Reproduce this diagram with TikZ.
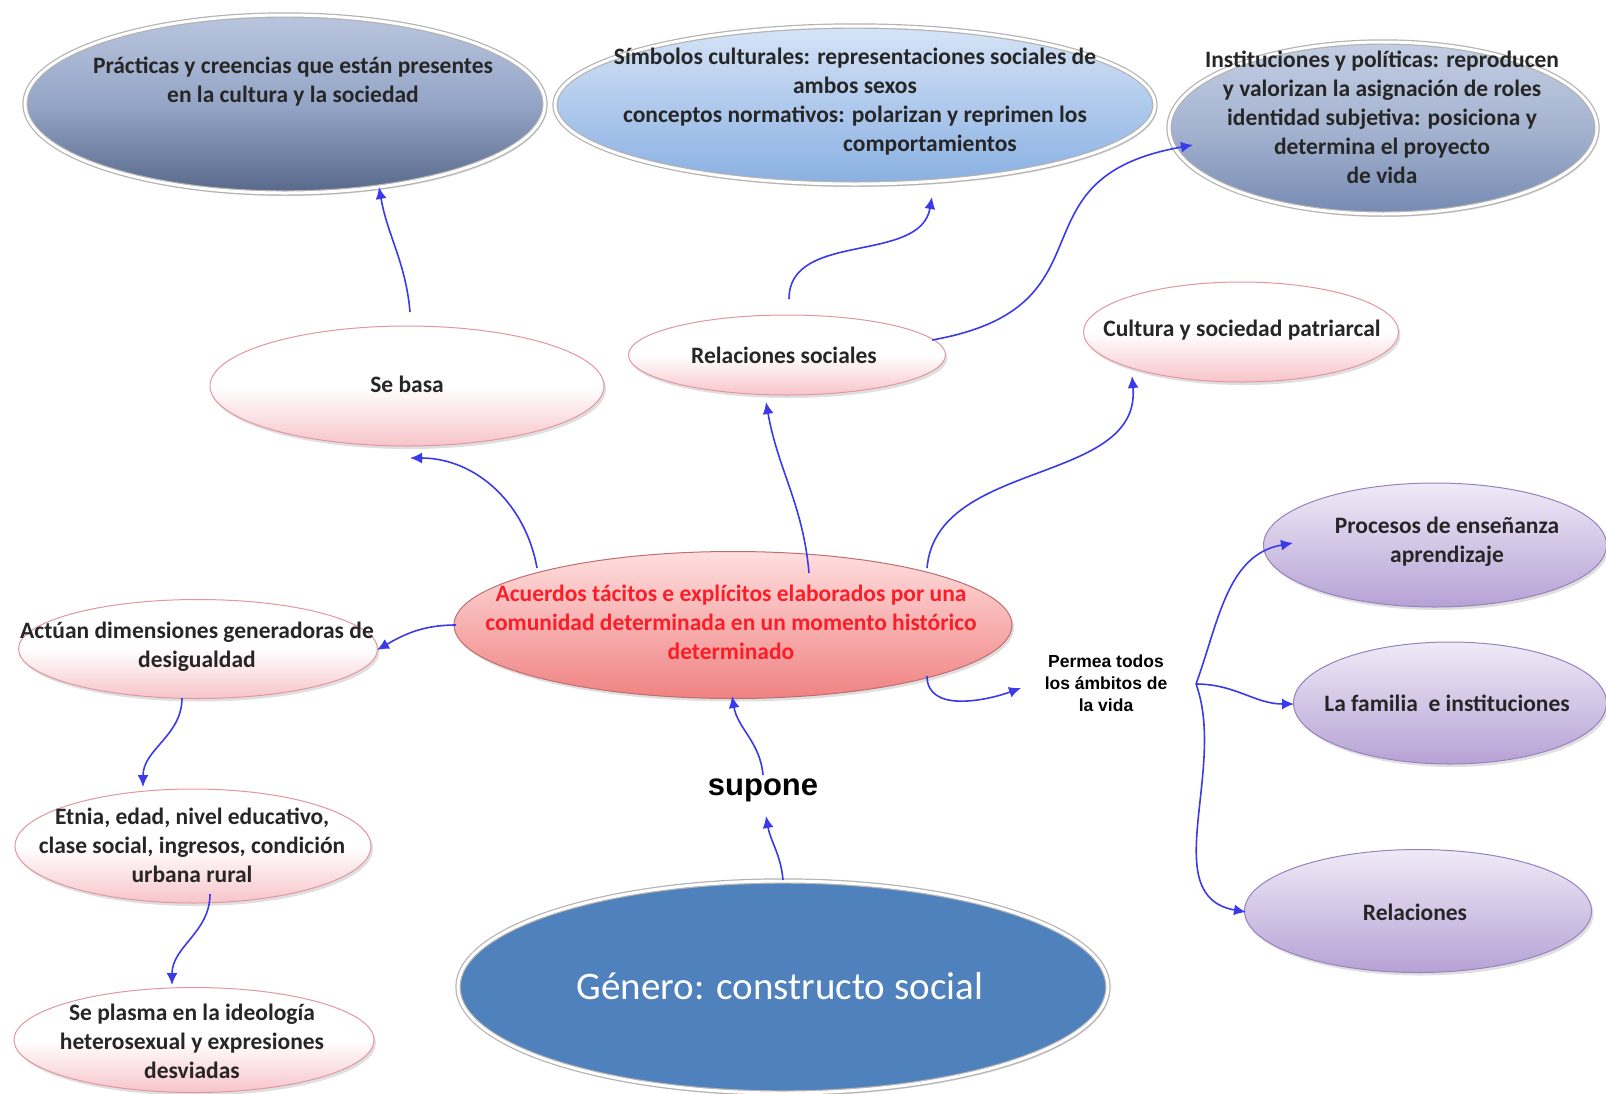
\documentclass[tikz,border=0pt]{standalone}
\usepackage{fontspec}
\setmainfont{Carlito}
\newfontfamily\arialfont{Liberation Sans}
\usetikzlibrary{shapes.geometric,arrows.meta,shadows}

\definecolor{linkblue}{RGB}{58,58,235}
\definecolor{pinkrim}{RGB}{226,150,160}
\definecolor{pinkbot}{RGB}{247,196,202}
\definecolor{slatetop}{RGB}{186,198,222}
\definecolor{slatemid}{RGB}{148,165,198}
\definecolor{slatebot}{RGB}{88,104,138}
\definecolor{insttop}{RGB}{196,207,228}
\definecolor{instbot}{RGB}{118,138,178}
\definecolor{skytop}{RGB}{214,228,247}
\definecolor{skybot}{RGB}{137,176,226}
\definecolor{redtop}{RGB}{255,222,222}
\definecolor{redbot}{RGB}{240,130,130}
\definecolor{redrim}{RGB}{190,110,110}
\definecolor{lilactop}{RGB}{240,234,247}
\definecolor{lilacbot}{RGB}{182,162,213}
\definecolor{lilacrim}{RGB}{150,130,190}
\definecolor{genblue}{RGB}{79,129,189}
\definecolor{redtext}{RGB}{250,30,40}

\begin{document}
\begin{tikzpicture}[x=1pt, y=1pt,
    bub/.style={ellipse, inner sep=0pt,
        drop shadow={shadow xshift=2pt, shadow yshift=-3pt, opacity=0.25}},
    pinkbub/.style={bub, draw=pinkrim, line width=1pt,
        top color=white, bottom color=pinkbot, middle color=white},
    lilacbub/.style={bub, draw=lilacrim, line width=1pt,
        top color=lilactop, bottom color=lilacbot},
    slatebub/.style={bub, draw=gray!60, line width=1.2pt, double=white,
        double distance=3pt, top color=slatetop, bottom color=slatebot,
        middle color=slatemid},
    skybub/.style={bub, draw=gray!60, line width=1.2pt, double=white,
        double distance=3pt, top color=skytop, bottom color=skybot},
    redbub/.style={bub, draw=redrim, line width=1pt,
        top color=redtop, bottom color=redbot},
    txt/.style={align=center, font=\fontsize{23.5}{29}\selectfont\bfseries,
        text=black!85},
    link/.style={draw=linkblue, line width=1.6pt,
        -{Latex[length=12pt,width=11pt]}}]

    \useasboundingbox (0,0) rectangle (1606,-1093);

    % top row
    \node[slatebub, minimum width=520pt, minimum height=178pt] (prac) at (285,-104) {};
    \node[txt] (prac-t) at (293,-82) {Prácticas y creencias que están presentes\\ en la cultura y la sociedad};

    \node[skybub, minimum width=600pt, minimum height=158pt] (simb) at (855,-105) {};
    \node[txt] (simb-t) at (855,-102) {Símbolos culturales: representaciones sociales de\\ ambos sexos\\ conceptos normativos: polarizan y reprimen los\\ \hspace*{150pt}comportamientos};

    \node[slatebub, top color=insttop, bottom color=instbot, middle color=insttop!60!instbot,
        minimum width=428pt, minimum height=172pt] (inst) at (1383,-128) {};
    \node[txt] (inst-t) at (1382,-117) {Instituciones y políticas: reproducen\\ y valorizan la asignación de roles\\ identidad subjetiva: posiciona y\\ determina el proyecto\\ de vida};

    % second row
    \node[pinkbub, minimum width=394pt, minimum height=120pt] (sebasa) at (407,-386) {};
    \node[txt] (sebasa-t) at (407,-384) {Se basa};

    \node[pinkbub, minimum width=317pt, minimum height=80pt] (relsoc) at (787,-355) {};
    \node[txt] (relsoc-t) at (784,-355) {Relaciones sociales};

    \node[pinkbub, minimum width=315pt, minimum height=100pt] (cultura) at (1241,-332) {};
    \node[txt] (cultura-t) at (1242,-330) {Cultura y sociedad patriarcal};

    % centre
    \node[redbub, minimum width=558pt, minimum height=147pt] (acuerdos) at (733,-625) {};
    \node[txt, text=redtext] (acuerdos-t) at (731,-622) {Acuerdos tácitos e explícitos elaborados por una\\ comunidad determinada en un momento histórico\\ determinado};

    % left column
    \node[pinkbub, minimum width=359pt, minimum height=99pt] (actuan) at (198,-649) {};
    \node[txt] (actuan-t) at (197,-647) {Actúan dimensiones generadoras de\\ desigualdad};

    \node[pinkbub, minimum width=356pt, minimum height=114pt] (etnia) at (193,-846) {};
    \node[txt] (etnia-t) at (192,-845) {Etnia, edad, nivel educativo,\\ clase social, ingresos, condición\\ urbana rural};

    \node[pinkbub, minimum width=360pt, minimum height=105pt] (plasma) at (194,-1040) {};
    \node[txt] (plasma-t) at (192,-1041) {Se plasma en la ideología\\ heterosexual y expresiones\\ desviadas};

    % bottom
    \node[bub, fill=genblue, draw=gray!60, line width=1.2pt, double=white,
        double distance=3pt, minimum width=650pt, minimum height=212pt] (genero) at (783,-987) {};
    \node[font=\fontsize{39}{44}\selectfont, text=white] (genero-t) at (780,-986) {Género: constructo social};

    \node[font=\arialfont\fontsize{31}{34}\selectfont\bfseries] (supone) at (763,-790) {supone};

    \node[align=center, font=\arialfont\fontsize{17.5}{22}\selectfont\bfseries] (permea) at (1106,-683) {Permea todos\\ los ámbitos de\\ la vida};

    % right column
    \node[lilacbub, minimum width=343pt, minimum height=124pt] (procesos) at (1435,-545) {};
    \node[txt] (procesos-t) at (1447,-542) {Procesos de enseñanza\\ aprendizaje};

    \node[lilacbub, minimum width=313pt, minimum height=122pt] (familia) at (1450,-703) {};
    \node[txt] (familia-t) at (1447,-703) {La familia\ \ e instituciones};

    \node[lilacbub, minimum width=347pt, minimum height=123pt] (relac) at (1418,-911) {};
    \node[txt] (relac-t) at (1415,-912) {Relaciones};

    % connectors
    \draw[link] ([shift={(3,74)}]sebasa.center) to[out=95,in=-80] ([shift={(94,-83)}]prac.center);
    \draw[link] ([shift={(-196,57)}]acuerdos.center) to[out=100,in=0] ([shift={(3,-72)}]sebasa.center);
    \draw[link] ([shift={(76,52)}]acuerdos.center) to[out=95,in=-80] ([shift={(-21,-47)}]relsoc.center);
    \draw[link] ([shift={(194,57)}]acuerdos.center) to[out=85,in=-85] ([shift={(-109,-44)}]cultura.center);
    \draw[link] ([shift={(2,56)}]relsoc.center) to[out=90,in=-100] ([shift={(77,-92)}]simb.center);
    \draw[link] ([shift={(145,15)}]relsoc.center) to[out=10,in=190,looseness=1.5] ([shift={(-190,-17)}]inst.center);
    \draw[link] ([shift={(-277,0)}]acuerdos.center) to[out=180,in=30] ([shift={(179,-1)}]actuan.center);
    \draw[link] ([shift={(-16,-49)}]actuan.center) to[out=-90,in=90] ([shift={(-50,59)}]etnia.center);
    \draw[link] ([shift={(17,-48)}]etnia.center) to[out=-90,in=90] ([shift={(-22,55)}]plasma.center);
    \draw[link] ([shift={(194,-51)}]acuerdos.center) to[out=-90,in=200] ([shift={(-85,-5)}]permea.center);
    \draw[link] ([shift={(90,-1)}]permea.center) to[out=70,in=190] ([shift={(-142,2)}]procesos.center);
    \draw[link] ([shift={(90,-1)}]permea.center) to[out=0,in=180] ([shift={(-156,-1)}]familia.center);
    \draw[link] ([shift={(90,-1)}]permea.center) to[out=-70,in=170] ([shift={(-172,-1)}]relac.center);
    \draw[link] ([shift={(0,107)}]genero.center) to[out=95,in=-80] ([shift={(3,-26)}]supone.center);
    \draw[link] ([shift={(0,15)}]supone.center) to[out=95,in=-80] ([shift={(-1,-71)}]acuerdos.center);

\end{tikzpicture}
\end{document}
